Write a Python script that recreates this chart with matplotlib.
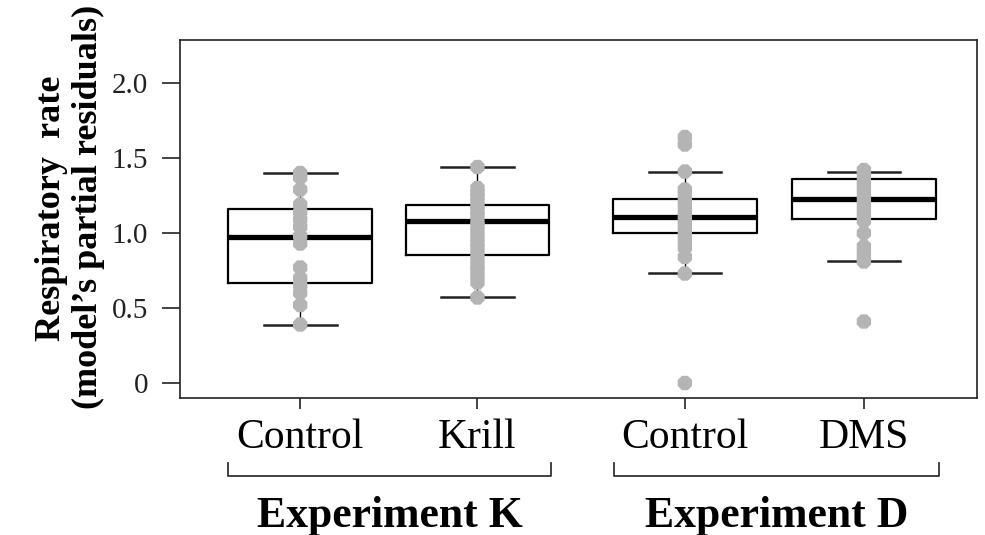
import matplotlib
matplotlib.use("Agg")
import matplotlib.pyplot as plt
import matplotlib.transforms as mtransforms

plt.rcParams['font.family'] = ['Liberation Serif', 'DejaVu Serif']

categories = ["Control", "Krill", "Control", "DMS"]
groups = ["Experiment K", "Experiment D"]
positions = [1.0, 2.0, 3.17, 4.18]

whislo = [0.39, 0.573, 0.733, 0.813]
q1 = [0.667, 0.853, 1.0, 1.093]
med = [0.973, 1.08, 1.107, 1.227]
q3 = [1.16, 1.19, 1.227, 1.36]
whishi = [1.40, 1.44, 1.41, 1.41]

pts_control_k = [1.40, 1.37, 1.29, 1.19, 1.14, 1.09, 1.04, 0.98, 0.93, 0.77, 0.70, 0.65, 0.60, 0.52, 0.39]
pts_krill = [1.44, 1.30, 1.27, 1.24, 1.21, 1.18, 1.15, 1.12, 1.08, 1.05, 1.01, 0.97, 0.93,
             0.90, 0.86, 0.82, 0.78, 0.75, 0.71, 0.67, 0.57]
pts_control_d = [1.64, 1.59, 1.41, 1.29, 1.26, 1.22, 1.18, 1.14, 1.10, 1.06, 1.02, 0.98, 0.94,
                 0.90, 0.84, 0.73, 0.0]
pts_dms = [1.42, 1.39, 1.35, 1.31, 1.27, 1.23, 1.19, 1.15, 1.11, 1.08, 1.00, 0.91, 0.87, 0.83,
           0.81, 0.41]
points = [pts_control_k, pts_krill, pts_control_d, pts_dms]

yticks = [0, 0.5, 1.0, 1.5, 2.0]
yticklabels = ["0", "0.5", "1.0", "1.5", "2.0"]

fig = plt.figure(figsize=(9.85, 5.35), dpi=100)
ax = fig.add_axes([180/985, (535-398)/535, (977-180)/985, (398-40)/535])

stats = []
for i in range(4):
    stats.append(dict(whislo=whislo[i], q1=q1[i], med=med[i], q3=q3[i], whishi=whishi[i], fliers=[]))

ax.bxp(stats, positions=positions, widths=0.81, showfliers=False, patch_artist=False,
       boxprops=dict(color='black', linewidth=1.6),
       medianprops=dict(color='black', linewidth=3.8, solid_capstyle='butt'),
       whiskerprops=dict(color='black', linewidth=1.0),
       capprops=dict(color='#222222', linewidth=1.8),
       capwidths=0.41)

for p, vals in zip(positions, points):
    ax.scatter([p]*len(vals), vals, s=125, color='#b4b4b4', edgecolors='none', zorder=5, marker='8')

ax.set_xlim(0.322, 4.818)
ax.set_ylim(-0.1, 2.287)
ax.set_yticks(yticks)
ax.set_yticklabels(yticklabels, fontsize=21, color='#222222')
ax.tick_params(axis='y', length=13, width=1.2, pad=10, color='#222222')
ax.set_xticks(positions)
ax.set_xticklabels(categories, fontsize=30, color='black')
ax.tick_params(axis='x', length=8, width=1.2, pad=7, color='#222222')
for s in ax.spines.values():
    s.set_linewidth(1.2)
    s.set_color('#222222')

trans = mtransforms.blended_transform_factory(ax.transData, ax.transAxes)
brackets = [(0.593, 2.414), (2.77, 4.603)]
for (x0, x1), g in zip(brackets, groups):
    ax.plot([x0, x0, x1, x1], [-0.182, -0.218, -0.218, -0.182], color='#333333',
            linewidth=1.3, transform=trans, clip_on=False)
    ax.text((x0 + x1) / 2, -0.33, g, transform=trans, ha='center', va='center',
            fontsize=31.5, fontweight='bold')

fig.text(51/985, 1 - 208/535, "Respiratory  rate", rotation=90, ha='center', va='center',
         fontsize=26, fontweight='bold')
fig.text(88/985, 1 - 207/535, "(model\u2019s partial residuals)", rotation=90, ha='center',
         va='center', fontsize=26, fontweight='bold')

fig.savefig("out.png", dpi=100)
